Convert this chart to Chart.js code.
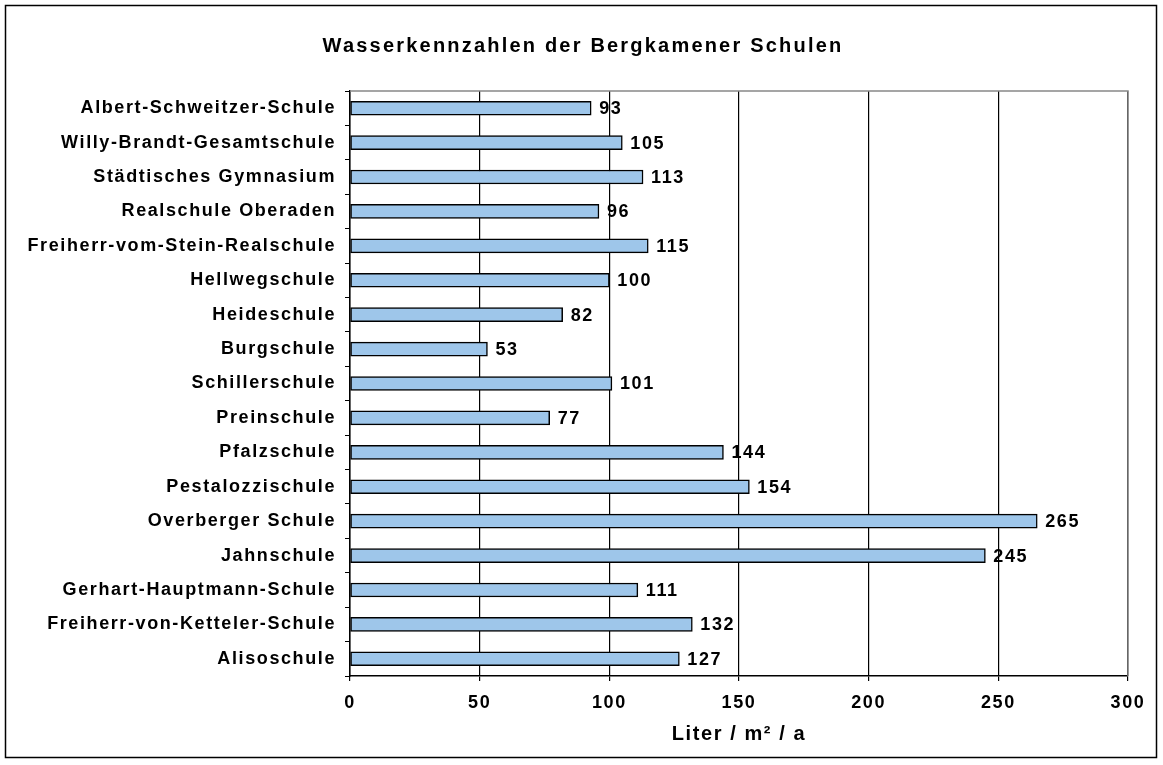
<!DOCTYPE html>
<html lang="de">
<head>
  <meta charset="UTF-8" />
  <title>Wasserkennzahlen der Bergkamener Schulen</title>
  <style>
    html, body {
      margin: 0;
      padding: 0;
      background: #fff;
    }
    #chart {
      display: block;
    }
  </style>
</head>
<body>

<canvas id="chart" width="1163" height="765"></canvas>

<script src="https://cdn.jsdelivr.net/npm/chart.js"></script>

<script>
  const chartTitle = 'Wasserkennzahlen der Bergkamener Schulen';
  const schools = [
    'Albert-Schweitzer-Schule',
    'Willy-Brandt-Gesamtschule',
    'Städtisches Gymnasium',
    'Realschule Oberaden',
    'Freiherr-vom-Stein-Realschule',
    'Hellwegschule',
    'Heideschule',
    'Burgschule',
    'Schillerschule',
    'Preinschule',
    'Pfalzschule',
    'Pestalozzischule',
    'Overberger Schule',
    'Jahnschule',
    'Gerhart-Hauptmann-Schule',
    'Freiherr-von-Ketteler-Schule',
    'Alisoschule'
  ];
  const litersPerSqm = [93, 105, 113, 96, 115, 100, 82, 53, 101, 77, 144, 154, 265, 245, 111, 132, 127];
  const xTicks = [0, 50, 100, 150, 200, 250, 300];

  const FONT = "'Liberation Sans', Arial, sans-serif";
  const SPACING = '1.6px';

  // outer frame, title, letter spacing and the grey top/right plot border
  const framePlugin = {
    id: 'frame',
    beforeDraw(chart) {
      const ctx = chart.ctx;
      ctx.save();
      ctx.fillStyle = '#fff';
      ctx.fillRect(0, 0, chart.width, chart.height);
      ctx.strokeStyle = '#000';
      ctx.lineWidth = 1.5;
      ctx.strokeRect(5.5, 5.5, 1151, 752);

      ctx.letterSpacing = '2.2px';
      ctx.font = 'bold 20px ' + FONT;
      ctx.fillStyle = '#000';
      ctx.textAlign = 'center';
      ctx.textBaseline = 'middle';
      ctx.fillText(chartTitle, 583, 46);
      ctx.restore();
      ctx.letterSpacing = SPACING;
    },
    beforeDatasetsDraw(chart) {
      const { ctx, chartArea: a } = chart;
      ctx.save();
      ctx.strokeStyle = '#888';
      ctx.lineWidth = 1.5;
      ctx.beginPath();
      ctx.moveTo(a.left, a.top);
      ctx.lineTo(a.right, a.top);
      ctx.lineTo(a.right, a.bottom);
      ctx.stroke();
      ctx.restore();
    }
  };

  // value labels at the end of each bar
  const valueLabels = {
    id: 'valueLabels',
    afterDatasetsDraw(chart) {
      const ctx = chart.ctx;
      const meta = chart.getDatasetMeta(0);
      ctx.save();
      ctx.font = 'bold 18px ' + FONT;
      ctx.fillStyle = '#000';
      ctx.textAlign = 'left';
      ctx.textBaseline = 'middle';
      meta.data.forEach((bar, i) => {
        ctx.fillText(String(litersPerSqm[i]), bar.x + 8, bar.y + 1);
      });
      ctx.restore();
    }
  };

  const chart = new Chart(document.getElementById('chart'), {
    type: 'bar',
    data: {
      labels: schools,
      datasets: [{
        data: litersPerSqm,
        backgroundColor: '#9ec6ea',
        borderColor: '#000',
        borderWidth: 1.5,
        borderSkipped: false,
        barThickness: 14
      }]
    },
    options: {
      indexAxis: 'y',
      responsive: false,
      animation: false,
      layout: {
        padding: { left: 10, right: 35, top: 91, bottom: 19 }
      },
      plugins: {
        legend: { display: false },
        tooltip: { enabled: false },
        title: { display: false }
      },
      scales: {
        x: {
          min: 0,
          max: 300,
          afterBuildTicks(scale) {
            scale.ticks = xTicks.map(v => ({ value: v }));
          },
          afterFit(scale) {
            scale.height = 70;
          },
          border: { display: true, color: '#000', width: 1.5 },
          grid: {
            color: '#000',
            lineWidth: 1.2,
            drawOnChartArea: true,
            drawTicks: true,
            tickLength: 5,
            tickColor: '#000'
          },
          ticks: {
            color: '#000',
            padding: 11,
            font: { family: FONT, size: 18, weight: 'bold' }
          },
          title: {
            display: true,
            text: 'Liter / m² / a',
            color: '#000',
            font: { family: FONT, size: 20, weight: 'bold' },
            padding: { top: 9, bottom: 0 }
          }
        },
        y: {
          afterFit(scale) {
            scale.width = 340;
          },
          border: { display: true, color: '#000', width: 1.5 },
          grid: {
            offset: true,
            drawOnChartArea: false,
            drawTicks: true,
            tickLength: 5,
            color: '#000'
          },
          ticks: {
            color: '#000',
            padding: 9,
            autoSkip: false,
            font: { family: FONT, size: 18, weight: 'bold' }
          }
        }
      }
    },
    plugins: [framePlugin, valueLabels]
  });
</script>

</body>
</html>
